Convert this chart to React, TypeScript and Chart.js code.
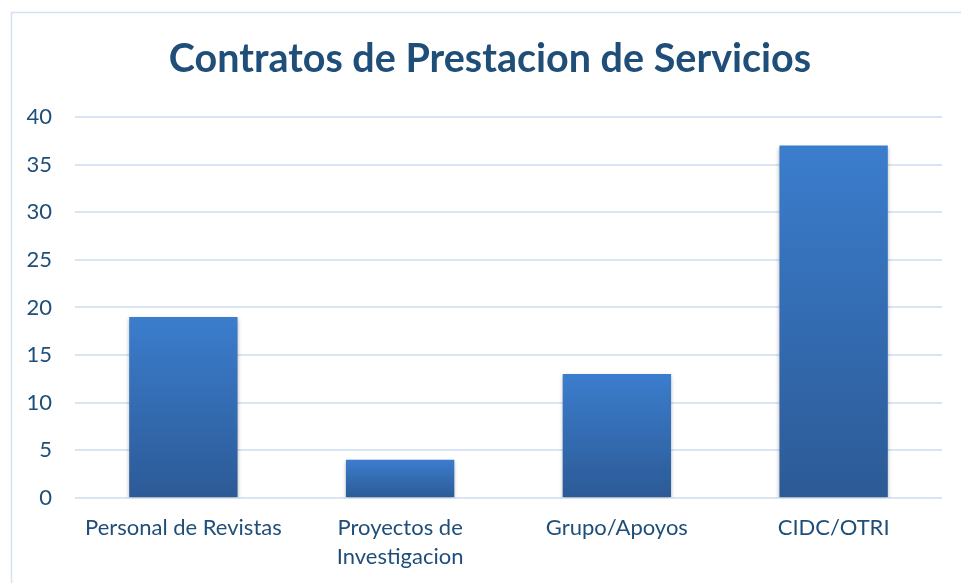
import React, { useEffect, useRef } from "react";
import { Chart, registerables } from "chart.js";

Chart.register(...registerables);

const titleText = "Contratos de Prestacion de Servicios";
const categories: (string | string[])[] = [
  "Personal de Revistas",
  ["Proyectos de", "Investigacion"],
  "Grupo/Apoyos",
  "CIDC/OTRI",
];
const values = [19, 4, 13, 37];
const yMin = 0;
const yMax = 40;
const yStep = 5;

const TEXT = "#1F4E79";
const GRID = "#D9E5F4";
const FRAME = "#D3E1F2";
const BAR_TOP = "#3B7DCD";
const BAR_BOTTOM = "#2C5A96";

const W = 976;
const H = 583;

export default function App() {
  const ref = useRef<HTMLCanvasElement | null>(null);

  useEffect(() => {
    const canvas = ref.current;
    if (!canvas) return;

    const framePlugin = {
      id: "frame",
      beforeDraw(chart: any) {
        const c = chart.ctx;
        c.save();
        c.fillStyle = "#ffffff";
        c.fillRect(0, 0, chart.width, chart.height);
        c.strokeStyle = FRAME;
        c.lineWidth = 1.5;
        c.beginPath();
        c.moveTo(11.5, chart.height + 5);
        c.lineTo(11.5, 12.5);
        c.lineTo(chart.width + 5, 12.5);
        c.stroke();
        c.restore();
      },
      afterDraw(chart: any) {
        const c = chart.ctx;
        c.save();
        c.fillStyle = TEXT;
        c.font = "bold 39.5px Lato";
        c.textAlign = "center";
        c.textBaseline = "middle";
        c.fillText(titleText, 490, 59.5);
        c.restore();
      },
    };

    const shadowPlugin = {
      id: "barShadow",
      beforeDatasetsDraw(chart: any) {
        const c = chart.ctx;
        c.save();
        c.shadowColor = "rgba(0,0,0,0.28)";
        c.shadowBlur = 4;
        c.shadowOffsetX = 0;
        c.shadowOffsetY = 2;
      },
      afterDatasetsDraw(chart: any) {
        chart.ctx.restore();
      },
    };

    const chart = new Chart(canvas, {
      type: "bar",
      data: {
        labels: categories,
        datasets: [
          {
            data: values,
            backgroundColor: (ctx: any) => {
              const ch = ctx.chart;
              if (!ch.chartArea || ctx.type !== "data") return BAR_TOP;
              const ys = ch.scales.y;
              const top = ys.getPixelForValue(ctx.raw);
              const bottom = ys.getPixelForValue(0);
              if (!isFinite(top) || !isFinite(bottom) || top === bottom) return BAR_TOP;
              const g = ch.ctx.createLinearGradient(0, top, 0, bottom);
              g.addColorStop(0, BAR_TOP);
              g.addColorStop(1, BAR_BOTTOM);
              return g;
            },
            borderWidth: 0,
            barPercentage: 0.5,
            categoryPercentage: 1,
          },
        ],
      },
      options: {
        animation: false,
        responsive: false,
        devicePixelRatio: 1,
        layout: { padding: { left: 0, right: 34, top: 117, bottom: 5 } },
        plugins: {
          legend: { display: false },
          tooltip: { enabled: false },
          title: { display: false },
        },
        scales: {
          x: {
            grid: { display: false },
            border: { display: false },
            ticks: {
              color: TEXT,
              font: { family: "Lato", size: 22, lineHeight: 1.32 },
              padding: 7,
              maxRotation: 0,
              autoSkip: false,
            },
          },
          y: {
            min: yMin,
            max: yMax,
            afterFit(scale: any) {
              scale.width = 75;
            },
            grid: { color: GRID, lineWidth: 2, drawTicks: false },
            border: { display: false },
            ticks: {
              stepSize: yStep,
              color: TEXT,
              font: { family: "Lato", size: 22 },
              padding: 23,
            },
          },
        },
      },
      plugins: [framePlugin, shadowPlugin],
    } as any);

    return () => chart.destroy();
  }, []);

  return (
    <div
      style={{
        position: "absolute",
        left: 0,
        top: 0,
        width: 961,
        height: 583,
        overflow: "hidden",
        background: "#fff",
      }}
    >
      <canvas ref={ref} width={W} height={H} style={{ display: "block", width: W, height: H }} />
    </div>
  );
}
